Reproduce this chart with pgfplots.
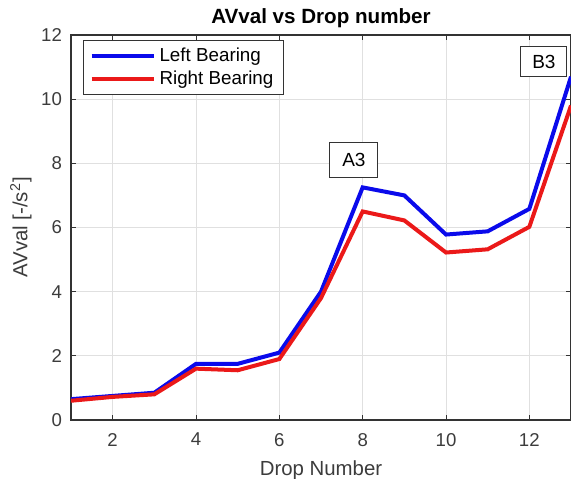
\documentclass[border=0pt]{standalone}
\usepackage{pgfplots}
\pgfplotsset{compat=1.18}
\usepackage{fontspec}
\setmainfont{Liberation Sans}
\usetikzlibrary{calc}

\definecolor{lblue}{RGB}{10,10,235}
\definecolor{rred}{RGB}{235,25,25}
\definecolor{txtgray}{RGB}{60,60,60}

\pgfplotstableread{
x left right
1 0.65 0.60
2 0.75 0.72
3 0.85 0.80
4 1.75 1.60
5 1.75 1.55
6 2.10 1.90
7 4.00 3.80
8 7.25 6.50
9 7.00 6.22
10 5.78 5.22
11 5.88 5.32
12 6.58 6.02
13 10.70 9.80
}\drops

\begin{document}
\begin{tikzpicture}
\begin{axis}[
    name=ax,
    scale only axis,
    width=250pt, height=192.5pt,
    xmin=1, xmax=13, ymin=0, ymax=12,
    xtick={2,4,...,12}, ytick={0,2,...,12},
    grid=major,
    major grid style={color=black!12, line width=0.4pt},
    tick align=inside,
    major tick length=2.5pt,
    axis line style={black!80, line width=0.6pt},
    tick style={black!80, line width=0.5pt},
    ticklabel style={font=\fontsize{9.3}{11}\selectfont, text=txtgray},
    /pgf/number format/assume math mode=true,
    xticklabel style={yshift=-3pt},
    yticklabel style={xshift=-1pt},
    xlabel={Drop Number},
    ylabel={AVval [-/s\textsuperscript{2}]},
    label style={font=\fontsize{10.2}{12}\selectfont, text=txtgray},
    xlabel style={yshift=-0.5pt},
    ylabel style={yshift=-2pt},
    title={AVval vs Drop number},
    title style={font=\bfseries\fontsize{10.3}{12}\selectfont, yshift=-6pt},
    legend style={at={(0.024,0.987)}, anchor=north west,
        font=\fontsize{9.4}{11}\selectfont, draw=black!80, line width=0.5pt,
        inner xsep=3pt, inner ysep=1.5pt, row sep=-0.5pt},
    legend cell align=left,
    legend image code/.code={\draw[#1, line width=2pt] (0,0) -- (31pt,0);},
]
\addplot[lblue, line width=2pt] table[x=x, y=left] {\drops};
\addlegendentry{Left Bearing}
\addplot[rred, line width=2pt] table[x=x, y=right] {\drops};
\addlegendentry{Right Bearing}
\node[draw=black!80, fill=white, line width=0.5pt, font=\fontsize{9.5}{11}\selectfont,
      minimum width=24pt, minimum height=17.5pt, inner sep=0pt] at (axis cs:7.79,8.1) {A3};
\node[draw=black!80, fill=white, line width=0.5pt, font=\fontsize{9.5}{11}\selectfont,
      minimum width=23pt, minimum height=15pt, inner sep=0pt] at (axis cs:12.35,11.16) {B3};
\end{axis}
\pgfresetboundingbox
\path ($(ax.south west)+(-35.5pt,-29.5pt)$) rectangle ($(ax.north east)+(0pt,17.5pt)$);
\end{tikzpicture}
\end{document}
